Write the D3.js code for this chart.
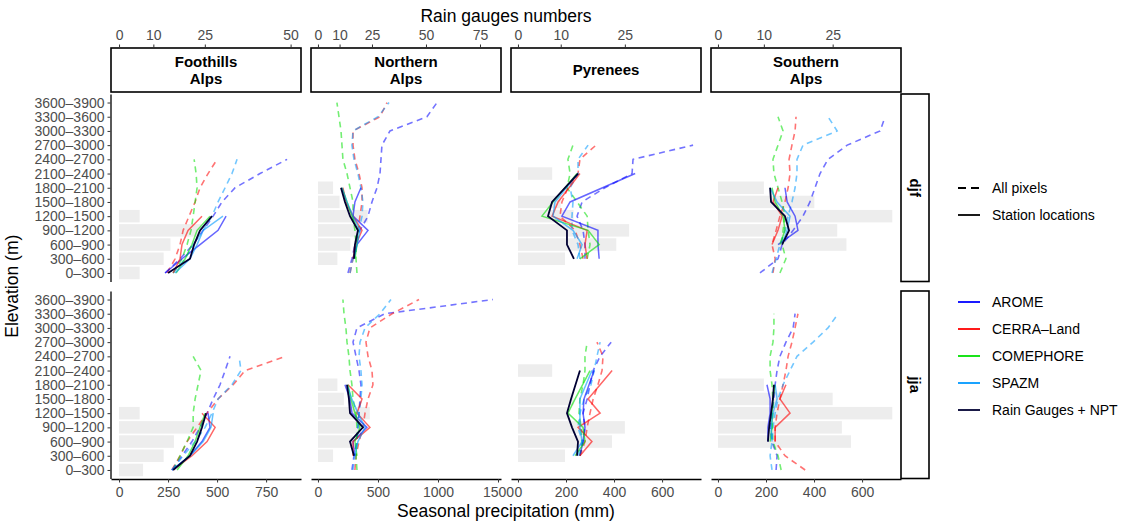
<!DOCTYPE html>
<html>
<head>
<meta charset="utf-8">
<script src="https://cdn.jsdelivr.net/npm/d3@7"></script>
<style>
  body { margin: 0; background: #fff; }
  svg { font-family: "Liberation Sans", Arial, sans-serif; }
  .axis text { fill: #4d4d4d; font-size: 14px; }
  .axis line { stroke: #333; }
  .axis path { stroke: #000; stroke-width: 1.3px; }
</style>
</head>
<body>
<svg width="1121" height="523"></svg>
<script>
// elevation bands, bottom to top
var bands = ["0–300", "300–600", "600–900", "900–1200", "1200–1500", "1500–1800",
  "1800–2100", "2100–2400", "2400–2700", "2700–3000", "3000–3300", "3300–3600", "3600–3900"];
var regions = ["Foothills\nAlps", "Northern\nAlps", "Pyrenees", "Southern\nAlps"];
var seasons = ["djf", "jja"];
var models = ["AROME", "CERRA–Land", "COMEPHORE", "SPAZM"];
var modelColors = ["#0000ff", "#ff0000", "#00e000", "#0099ff"];
var gaugeColor = "#000033";

// x scale domains (mm) per region and secondary axis factor (mm per gauge)
var xDomains = [[-41, 928], [-58, 1525], [-29, 762], [-29, 762]];
var gaugeFactors = [17.5, 18, 17.8, 19.1];
var precipTicks = [[0, 250, 500, 750], [0, 500, 1000, 1500], [0, 200, 400, 600], [0, 200, 400, 600]];
var gaugeTicks = [0, 10, 25, 50, 75];

// values per band (index 0 = 0–300); pixels / stations order: AROME, CERRA-Land, COMEPHORE, SPAZM
var foothillsDjf = {
  gauges: [6, 13, 15, 24, 6],
  rainGauges: [250, 362, 383, 413, 474],
  pixels: [
    [235, 311, 378, 429, 480, 525, 592, 719, 857],
    [245, 286, 311, 327, 357, 388, 413, 454, 500],
    [276, 321, 347, 367, 378, 388, 398, 393, 383],
    [276, 337, 378, 429, 474, 505, 541, 576, 602]],
  stations: [
    [235, 321, 413, 505, 546],
    [276, 311, 321, 352, 423],
    [291, 337, 372, 398, 464],
    [286, 362, 398, 429, 530]]
};
var foothillsJja = {
  gauges: [7, 13, 16, 24, 6],
  rainGauges: [276, 362, 398, 423, 444],
  pixels: [
    [270, 321, 372, 413, 449, 480, 515, 541, 566],
    [270, 311, 347, 398, 449, 505, 582, 643, 847],
    [276, 311, 347, 378, 378, 388, 403, 418, 378],
    [270, 327, 388, 439, 474, 505, 576, 622, 612]],
  stations: [
    [270, 362, 423, 464, 454],
    [276, 372, 449, 490, 423],
    [296, 352, 388, 413, 439],
    [270, 362, 429, 469, 480]]
};
var northernDjf = {
  gauges: [0, 9, 15, 18, 23, 10, 7],
  rainGauges: [null, 300, 308, 333, 267, 225, 192],
  pixels: [
    [250, 283, 308, 350, 417, 450, 492, 517, 525, 533, 600, 908, 992],
    [267, 292, 308, 333, 350, 367, 367, 342, 308, 292, 292, 517, 575],
    [325, 317, 317, 308, 292, 292, 267, 242, 208, 200, 192, 175, 158],
    [267, 292, 325, 342, 367, 375, 358, 333, 300, 283, 292, 500, 592]],
  stations: [
    [null, 292, 325, 417, 292, 308, 358],
    [null, 292, 317, 367, 292, 233, 208],
    [null, 308, 325, 333, 283, 242, 200],
    [null, 300, 325, 350, 292, 242, 200]]
};
var northernJja = {
  gauges: [0, 7, 16, 20, 24, 12, 9],
  rainGauges: [null, 300, 267, 375, 267, 258, 242],
  pixels: [
    [283, 300, 325, 333, 342, 350, 358, 342, 317, 292, 325, 558, 1458],
    [308, 317, 342, 375, 392, 417, 458, 450, 417, 400, 433, 617, 842],
    [325, 317, 325, 325, 317, 292, 283, 267, 258, 242, 233, 217, 208],
    [292, 308, 325, 333, 342, 358, 367, 358, 342, 350, 392, 517, 608]],
  stations: [
    [null, 308, 292, 408, 283, 267, 225],
    [null, 292, 292, 433, 325, 367, 250],
    [null, 325, 308, 350, 308, 275, 250],
    [null, 308, 333, 392, 333, 283, 242]]
};
var pyreneesDjf = {
  gauges: [0, 11, 23, 26, 13, 10, 0, 8],
  rainGauges: [null, 233, 204, 204, 125, 142, null, 250],
  pixels: [
    [null, 279, 279, 271, 246, 267, 362, 475, 479, 729],
    [null, 271, 258, 238, 175, 183, 208, 250, 258, 325],
    [null, 288, 300, 292, 288, 246, 204, 217, 208, 229],
    [null, 258, 250, 225, 225, 229, 217, 250, 250, 292]],
  stations: [
    [null, 338, 333, 333, 183, 217, null, 488],
    [null, 288, 279, 288, 142, 167, null, 258],
    [null, 258, 338, 292, 100, 146, null, 246],
    [null, 246, 267, 229, 146, 154, null, 250]]
};
var pyreneesJja = {
  gauges: [0, 11, 22, 25, 12, 13, 0, 8],
  rainGauges: [null, 246, 250, 225, 204, 221, null, 258],
  pixels: [
    [null, 258, 271, 279, 271, 288, 300, 313, 342, 388],
    [null, 258, 279, 288, 300, 313, 333, 350, 354, 329],
    [null, 258, 267, 263, 254, 258, 271, 279, 279, 288],
    [null, 250, 267, 250, 258, 275, 304, 317, 329, 342]],
  stations: [
    [null, 258, 271, 279, 271, 275, null, 317],
    [null, 258, 308, 250, 342, 292, null, 392],
    [null, 238, 279, 271, 208, 238, null, 300],
    [null, 229, 267, 258, 258, 258, null, 308]]
};
var southernDjf = {
  gauges: [0, 0, 28, 26, 38, 21, 10],
  rainGauges: [null, null, 267, 296, 279, 221, 217],
  pixels: [
    [175, 250, 267, 313, 354, 383, 404, 425, 458, 538, 675, 696],
    [229, 238, 225, 242, 258, 279, 292, 300, 296, 308, 321, 325],
    [258, 283, 267, 271, 279, 267, 250, 233, 229, 250, 271, 250],
    [225, 242, 258, 279, 292, 308, 321, 329, 329, 354, 496, 458]],
  stations: [
    [null, null, 250, 333, 321, 288, 279],
    [null, null, 225, 250, 267, 229, 250],
    [null, null, 258, 279, 271, 238, 225],
    [null, null, 267, 288, 300, 246, 217]]
};
var southernJja = {
  gauges: [0, 0, 29, 27, 38, 25, 10],
  rainGauges: [null, null, 208, 213, 221, 229, 233],
  pixels: [
    [242, 246, 225, 217, 225, 233, 238, 246, 258, 283, 313, 321],
    [363, 279, 238, 238, 246, 258, 271, 283, 292, 308, 321, 333],
    [263, 250, 229, 225, 229, 229, 225, 217, 217, 229, 233, 233],
    [225, 217, 225, 229, 238, 250, 271, 300, 329, 396, 458, 500]],
  stations: [
    [null, null, 208, 208, 217, 217, 204],
    [null, null, 238, 238, 300, 258, 283],
    [null, null, 217, 225, 225, 229, 238],
    [null, null, 225, 221, 229, 246, 238]]
};
var panelData = [[foothillsDjf, foothillsJja], [northernDjf, northernJja],
  [pyreneesDjf, pyreneesJja], [southernDjf, southernJja]];

var svg = d3.select("svg");
var left0 = 111, panelW = 190, gapW = 10;
var rowTop = [94, 291], rowH = 187.5;
var stripTop = 48, stripBottom = 92;

function toPoints(values) {
  return values
    .map(function (v, i) { return { band: bands[i], v: v }; })
    .filter(function (d) { return d.v != null; });
}

regions.forEach(function (region, c) {
  var x0 = left0 + c * (panelW + gapW);
  var x = d3.scaleLinear().domain(xDomains[c]).range([x0, x0 + panelW]);
  var g = d3.scaleLinear()
    .domain(xDomains[c].map(function (v) { return v / gaugeFactors[c]; }))
    .range([x0, x0 + panelW]);

  // top strip
  svg.append("rect")
    .attr("x", x0).attr("y", stripTop)
    .attr("width", panelW).attr("height", stripBottom - stripTop)
    .attr("fill", "#fff").attr("stroke", "#000").attr("stroke-width", 1.6);
  var lines = region.split("\n");
  var st = svg.append("text")
    .attr("text-anchor", "middle")
    .attr("font-weight", "bold")
    .attr("font-size", "15px");
  lines.forEach(function (l, i) {
    st.append("tspan")
      .attr("x", x0 + panelW / 2)
      .attr("y", (stripTop + stripBottom) / 2 + 5 + (i - (lines.length - 1) / 2) * 17)
      .text(l);
  });

  // secondary (gauge number) axis above the strips
  var gAxis = svg.append("g")
    .attr("class", "axis")
    .attr("transform", "translate(0," + stripTop + ")")
    .call(d3.axisTop(g)
      .tickValues(gaugeTicks.filter(function (t) { return t <= g.domain()[1]; }))
      .tickFormat(d3.format("d"))
      .tickSize(3.5).tickSizeOuter(0).tickPadding(4.5));
  gAxis.select(".domain").remove();

  seasons.forEach(function (season, r) {
    var d = panelData[c][r];
    var y = d3.scalePoint().domain(bands)
      .range([rowTop[r] + rowH, rowTop[r]]).padding(0.6);
    var bh = y.step() * 0.88;
    var p = svg.append("g");

    // gray bars: number of rain gauges
    p.selectAll("rect.bar")
      .data(d.gauges.map(function (v, i) { return { band: bands[i], n: v }; })
        .filter(function (e) { return e.n > 0; }))
      .enter()
      .append("rect")
      .attr("class", "bar")
      .attr("x", x(0))
      .attr("width", function (e) { return g(e.n) - x(0); })
      .attr("y", function (e) { return y(e.band) - bh / 2; })
      .attr("height", bh)
      .style("fill", "#ededed");

    var line = d3.line()
      .x(function (e) { return x(e.v); })
      .y(function (e) { return y(e.band); });

    // all pixels (dashed)
    d.pixels.forEach(function (vals, m) {
      p.append("path")
        .attr("d", line(toPoints(vals)))
        .style("fill", "none")
        .style("stroke", modelColors[m])
        .style("stroke-opacity", 0.55)
        .style("stroke-width", 1.6)
        .style("stroke-dasharray", "6,4.5");
    });
    // station locations (solid)
    d.stations.forEach(function (vals, m) {
      p.append("path")
        .attr("d", line(toPoints(vals)))
        .style("fill", "none")
        .style("stroke", modelColors[m])
        .style("stroke-opacity", 0.6)
        .style("stroke-width", 1.5);
    });
    p.append("path")
      .attr("d", line(toPoints(d.rainGauges)))
      .style("fill", "none")
      .style("stroke", gaugeColor)
      .style("stroke-width", 1.8);

    if (c == 0) {
      svg.append("g")
        .attr("class", "axis")
        .attr("transform", "translate(" + (x0 - 0.5) + ",0)")
        .call(d3.axisLeft(y).tickSize(3).tickSizeOuter(0).tickPadding(3));
    }
    if (r == 1) {
      svg.append("g")
        .attr("class", "axis")
        .attr("transform", "translate(0," + (rowTop[r] + rowH + 0.5) + ")")
        .call(d3.axisBottom(x).tickValues(precipTicks[c])
          .tickFormat(d3.format("d"))
          .tickSize(3.5).tickSizeOuter(0).tickPadding(5));
    }
    if (c == regions.length - 1) {
      var sx = x0 + panelW;
      svg.append("rect")
        .attr("x", sx).attr("y", rowTop[r])
        .attr("width", 28).attr("height", rowH)
        .attr("fill", "#fff").attr("stroke", "#000").attr("stroke-width", 1.6);
      svg.append("text")
        .attr("transform", "translate(" + (sx + 9) + "," + (rowTop[r] + rowH / 2) + ") rotate(90)")
        .attr("text-anchor", "middle")
        .attr("font-weight", "bold")
        .attr("font-size", "15px")
        .text(season);
    }
  });
});

// axis titles
var midX = left0 + (4 * panelW + 3 * gapW) / 2;
svg.append("text").attr("x", midX).attr("y", 22)
  .attr("text-anchor", "middle").attr("font-size", "17.5px").text("Rain gauges numbers");
svg.append("text").attr("x", midX).attr("y", 517)
  .attr("text-anchor", "middle").attr("font-size", "17.5px").text("Seasonal precipitation (mm)");
svg.append("text")
  .attr("transform", "translate(18," + (rowTop[0] + rowTop[1] + rowH) / 2 + ") rotate(-90)")
  .attr("text-anchor", "middle").attr("font-size", "17.5px").text("Elevation (m)");

// legends
var lx = 958;
var typeLegend = [
  { label: "All pixels", dash: "8,5", y: 188 },
  { label: "Station locations", dash: null, y: 215 }];
typeLegend.forEach(function (t) {
  svg.append("line").attr("x1", lx).attr("x2", lx + 22)
    .attr("y1", t.y).attr("y2", t.y)
    .style("stroke", "#000").style("stroke-width", 1.8)
    .style("stroke-dasharray", t.dash);
  svg.append("text").attr("x", lx + 34).attr("y", t.y + 5)
    .attr("font-size", "14px").text(t.label);
});
var colorLegend = models.concat(["Rain Gauges + NPT"]);
var colorLegendColors = modelColors.concat([gaugeColor]);
colorLegend.forEach(function (lab, i) {
  var ly = 302 + i * 27;
  svg.append("line").attr("x1", lx).attr("x2", lx + 22)
    .attr("y1", ly).attr("y2", ly)
    .style("stroke", colorLegendColors[i]).style("stroke-width", 1.8);
  svg.append("text").attr("x", lx + 34).attr("y", ly + 5)
    .attr("font-size", "14px").text(lab);
});
</script>
</body>
</html>
